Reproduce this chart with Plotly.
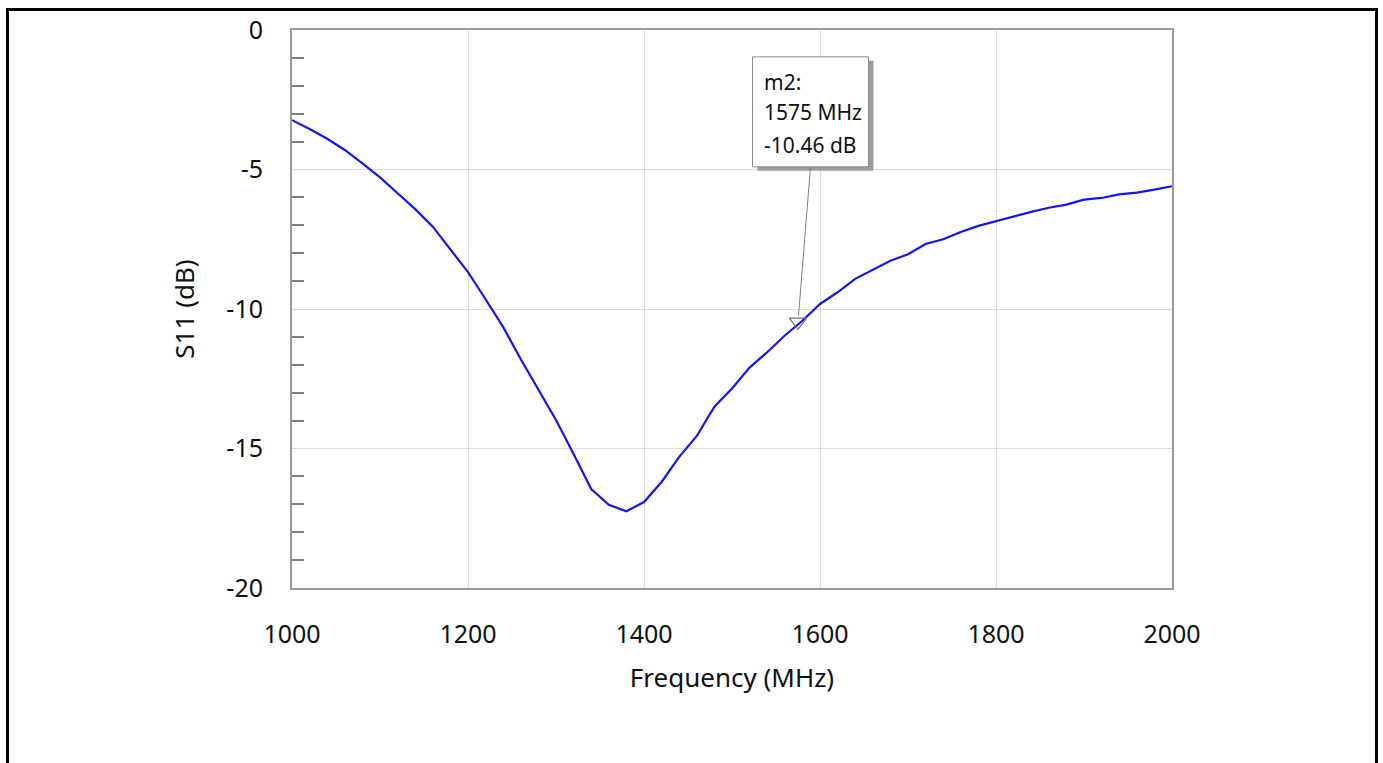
import plotly.graph_objects as go

freq_mhz = [1000, 1020, 1040, 1060, 1080, 1100, 1120, 1140, 1160, 1180,
            1200, 1220, 1240, 1260, 1280, 1300, 1320, 1340, 1360, 1380,
            1400, 1420, 1440, 1460, 1480, 1500, 1520, 1540, 1560, 1580,
            1600, 1620, 1640, 1660, 1680, 1700, 1720, 1740, 1760, 1780,
            1800, 1820, 1840, 1860, 1880, 1900, 1920, 1940, 1960, 1980, 2000]
s11_db = [-3.23, -3.55, -3.90, -4.30, -4.78, -5.28, -5.85, -6.42, -7.05, -7.85,
          -8.68, -9.65, -10.65, -11.80, -12.90, -13.98, -15.20, -16.45, -17.02, -17.25,
          -16.92, -16.20, -15.30, -14.55, -13.50, -12.85, -12.10, -11.55, -10.95, -10.42,
          -9.82, -9.40, -8.92, -8.60, -8.27, -8.04, -7.67, -7.50, -7.24, -7.02,
          -6.85, -6.68, -6.52, -6.37, -6.26, -6.08, -6.02, -5.89, -5.83, -5.72, -5.60]

marker_name = "m2"
marker_freq = [1575]
marker_db = [-10.46]

x_tick_vals = [1000, 1200, 1400, 1600, 1800, 2000]
x_tick_text = ["1000", "1200", "1400", "1600", "1800", "2000"]
y_tick_vals = [0, -5, -10, -15, -20]
y_tick_text = ["0", "-5", "-10", "-15", "-20"]

FONT = "Noto Sans"
W, H = 1383, 763
L, T = 292, 30
pw, ph = 880, 558
R, B = W - L - pw, H - T - ph

fig = go.Figure()
fig.add_trace(go.Scatter(x=freq_mhz, y=s11_db, mode="lines",
                         line=dict(color="#1414F5", width=2.2),
                         showlegend=False, hoverinfo="skip"))
fig.add_trace(go.Scatter(x=marker_freq, y=marker_db, mode="markers",
                         marker=dict(symbol="triangle-down-open", size=15,
                                     color="#707070", line=dict(width=1.2)),
                         showlegend=False, hoverinfo="skip"))

mx, my = marker_freq[0], marker_db[0]


def pix_shape(kind, x0, x1, y0, y1, **kw):
    fig.add_shape(type=kind, xref="x", yref="y", xsizemode="pixel", ysizemode="pixel",
                  xanchor=mx, yanchor=my, x0=x0, x1=x1, y0=y0, y1=y1,
                  layer="above", **kw)


# shadow, box, leader line
pix_shape("rect", -40.5, 75.5, 151, 261, line=dict(width=0), fillcolor="#9c9c9c")
pix_shape("rect", -45.5, 70.5, 155, 265, line=dict(color="#8a8a8a", width=1),
          fillcolor="white")
pix_shape("line", 12.5, 0.5, 155, 6, line=dict(color="#808080", width=1))

lines = [f"{marker_name}:", f"{mx} MHz", f"{my:.2f} dB"]
for txt, dy in zip(lines, [240, 210, 177]):
    fig.add_annotation(x=mx, y=my, xref="x", yref="y", text=txt, showarrow=False,
                       xanchor="left", yanchor="middle", xshift=-36.5, yshift=dy,
                       font=dict(family=FONT, size=21, color="#111111"))

# outer frame
fig.add_shape(type="rect", xref="paper", yref="paper",
              x0=(7.5 - L) / pw, x1=(1376.5 - L) / pw,
              y0=(T + ph - 775) / ph, y1=(T + ph - 9.5) / ph,
              line=dict(color="black", width=3), fillcolor="rgba(0,0,0,0)",
              layer="above")

axis_common = dict(showline=True, linecolor="#9a9a9a", linewidth=2, mirror=True,
                   gridcolor="#dcdcdc", gridwidth=1, zeroline=False, ticks="",
                   tickfont=dict(family=FONT, size=25, color="#111111"))

fig.update_xaxes(range=[1000, 2000], tickvals=x_tick_vals, ticktext=x_tick_text,
                 ticklabelstandoff=23,
                 title=dict(text="Frequency (MHz)", standoff=20,
                            font=dict(family=FONT, size=26, color="#111111")),
                 **axis_common)
fig.update_yaxes(range=[-20, 0], tickvals=y_tick_vals, ticktext=y_tick_text,
                 ticklabelstandoff=22,
                 minor=dict(tickvals=[v for v in range(-19, 0) if v % 5 != 0],
                            ticks="inside", ticklen=12,
                            tickcolor="#808080", tickwidth=1.5, showgrid=False),
                 title=dict(text="S11 (dB)", standoff=24,
                            font=dict(family=FONT, size=26, color="#111111")),
                 **axis_common)

fig.update_layout(width=W, height=H, margin=dict(l=L, r=R, t=T, b=B, autoexpand=False),
                  paper_bgcolor="white", plot_bgcolor="white",
                  font=dict(family=FONT))

fig.write_html("out.html",
               config={"displayModeBar": False},
               post_script="document.body.style.margin='0';"
                           "document.body.style.overflow='hidden';")
